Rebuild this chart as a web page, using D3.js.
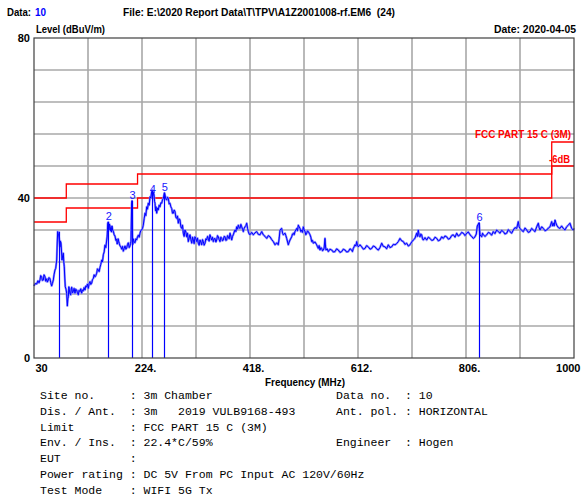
<!DOCTYPE html>
<html><head><meta charset="utf-8">
<script src="https://cdn.jsdelivr.net/npm/d3@7"></script>
<style>html,body{margin:0;padding:0;background:#fff;}svg{display:block;}</style>
</head><body>
<script>
// ---- data ----
const xTicks = [30, 224, 418, 612, 806, 1000];
const yTicks = [0, 40, 80];
const limitFreq = [30, 88, 88, 216, 216, 960, 960, 1000];
const limitQP = [40, 40, 43.5, 43.5, 46, 46, 54, 54];
const limitMargin = [34, 34, 37.5, 37.5, 40, 40, 48, 48];
const markerFreq = [74.4, 163.5, 206.0, 242.7, 264.3, 829.3];
const markerLevel = [31.6, 34.0, 39.3, 42.0, 41.3, 33.8];
const markerLabel = ["", "2", "3", "4", "5", "6"];
const traceMHz = [30,32,34.8,37,39,40.8,42,43.8,45,46.7,48,49.8,51,52.8,54,55.7,57,58.7,60,61.7,63,64.7,66,67.7,69,70.8,71.8,72.5,73.5,74.3,75.5,76.7,77.5,78.5,79.5,80.3,81.5,82.7,83.5,84.4,85.3,86.2,87.5,88.7,89.9,90.8,91.7,92.6,93.5,94.7,95.9,96.8,97.7,99.2,100.7,102,103.6,105,106.6,108,109.6,111,112.6,114,115.6,117,118.6,120,121.6,123,124.6,126,127.6,129,130.6,132,133.6,135,136.6,138,139.6,141,142.6,144,145.6,147,148.6,150,151.6,153,154.5,156,157.5,159,160.6,161.5,162.4,163.5,164.7,165.5,166.5,167.5,168.3,169.2,170.1,171.3,172.5,174,175.5,177,178.5,179.4,180.3,181.2,182.1,183.3,184.5,186,187.5,189,190.5,192,193.5,195,196.5,198,199.4,201,202.4,203.3,204.2,205.4,206.0,206.6,207.4,208.4,209.9,211.4,213,214.4,215.9,217.4,219,220.4,221.9,223.4,224.9,226.3,227.9,229.4,230.9,232.4,233.9,235.3,236.9,238.4,239.9,241.4,242.7,243.6,244.6,245.6,246.5,247.4,248.3,249.2,250.4,251.8,253.3,254.8,256.3,257.9,259.4,260.9,262.3,264.3,265.3,266.8,268.4,269.8,271.3,272.8,274.3,275.8,277.3,278.8,280.2,281.8,283.3,284.8,286.3,287.8,289.2,290.8,292.3,293.8,295.3,296.8,298.2,299.7,301.2,302.8,304.3,305.8,307.2,308.7,310.2,311.8,313.3,314.8,316.2,317.7,319.2,320.8,322.3,323.7,325.1,326.7,328.2,329.7,331.2,332.7,334.1,335.7,337.2,338.7,340.2,341.7,343.1,344.6,346.1,347.6,349.2,350.6,352.1,353.6,355.1,356.7,358.2,359.6,361.1,362.6,364.1,365.7,367.2,368.6,370,371.6,373.1,374.6,376.1,377.6,379,380.6,382.1,383.6,385.1,386.6,388,389.6,391.1,392.6,394.1,395.6,397,398.5,400,401.6,403.1,404.6,406,407.5,409,410.6,412.1,413.6,415,416.5,418,421,424,427,430,433,436,439,441.9,445,448,451,453.9,457,459.9,462.9,466,468.8,470.5,471.9,474.9,476.5,477.8,480.9,482.4,483.9,486.8,488.4,489.9,492.9,494.3,495.8,497.3,498.8,501.9,503.3,504.8,506.3,507.8,509.3,510.9,512.3,513.8,515.3,516.8,518.3,519.9,521.3,522.7,524.3,525.8,527.3,528.8,530.3,531.7,534.8,537.8,539.3,540.7,542.2,543.7,545.3,546.8,548.3,549.7,551.2,552.7,553.6,554.5,556.6,558.7,561.7,564.8,567.7,570.7,573.6,576.6,579.6,582.7,585.6,588.6,591.6,594.6,597.6,600.7,602,603.6,605,606.6,608.2,609.7,611,612.5,615.5,618.6,621.6,624.6,627.5,630.5,633.6,636.6,639.5,642.5,645.5,648.5,651.5,654.6,657.5,660.5,663.4,666.4,669.5,672.5,675.5,678.5,681.4,684.4,687.4,690.4,693.4,696.4,699.4,702.4,705.4,708.4,711.3,714.3,717.4,718.8,720.3,721.8,723.4,724.9,726.4,727.9,729.3,732.4,735.4,738.3,741.3,744.3,747.3,750.3,753.4,756.3,759.3,762.3,765.2,768.3,771.3,774.3,777.3,780.2,783.2,786.3,789.3,792.2,795.2,798.2,801.2,804.3,807.3,810.2,813.2,816.1,819.1,822.2,824.5,826.3,829.3,831.1,834.2,835.7,837.1,840.2,843.2,846.2,849.1,852,855,858,861.1,864.1,867.1,870,873,876,879.1,882,885,888,891,894,897.1,899.9,901.5,903,906,909,912,915,918,920.9,923.9,926.9,930,933,935.9,937.4,938.9,941.9,944.9,948,951,954,956.9,959.9,961.4,962.8,964.4,965.9,967.4,968.9,971.9,974.8,977.8,980.7,983.8,986.8,989.7,992.7,995.8,998.6,1000];
const traceDb = [18.0,18.6,18.5,19.3,18.8,19.5,20.6,20.2,19.4,19.5,20.8,20.3,19.2,19.8,19.0,19.5,20.1,19.8,18.9,18.0,18.6,19.5,20.8,22.0,22.4,24.5,29.0,31.6,31.0,30.8,29.5,27.8,29.2,28.7,26.5,24.5,25.5,26.2,24.0,22.8,20.0,17.8,17.2,16.2,13.0,14.8,15.3,17.8,17.0,16.0,15.8,17.2,17.7,16.3,16.6,17.4,16.2,17.2,17.0,16.3,15.8,16.9,16.6,17.3,16.2,17.0,16.8,17.6,17.0,18.0,17.8,18.5,17.4,18.6,19.1,18.4,18.7,19.6,19.9,20.8,20.3,20.6,21.2,22.3,22.0,21.6,22.7,23.4,24.5,24.0,25.8,26.5,28.2,27.6,29.5,30.5,33.7,34.0,32.0,33.5,33.0,31.8,32.6,31.5,33.0,32.0,31.7,30.8,30.5,29.4,29.7,28.5,28.8,29.8,29.2,28.6,28.0,27.8,27.2,27.9,26.7,27.4,28.0,27.2,27.5,28.4,28.8,27.6,28.0,28.6,29.2,38.5,39.3,31.0,28.4,29.8,29.0,28.8,29.8,29.5,30.3,30.7,30.2,31.2,31.9,32.0,32.4,33.2,34.8,36.2,35.6,37.8,37.2,38.7,38.2,40.3,40.0,41.6,42.0,40.6,41.4,40.8,39.2,38.7,36.8,37.8,36.2,37.5,37.0,38.2,37.8,38.8,38.7,39.6,39.9,41.3,40.8,39.8,39.5,40.2,39.9,38.5,38.7,37.8,37.4,36.2,36.2,37.0,36.6,35.2,34.9,35.5,33.7,34.8,34.5,32.8,32.4,33.2,31.2,30.4,32.0,31.5,30.3,31.2,29.1,30.0,30.8,29.6,28.7,30.2,29.5,28.6,30.3,29.8,29.1,30.0,28.7,28.2,29.5,29.0,28.3,29.6,29.1,28.2,28.7,29.8,29.5,30.4,29.9,29.2,30.8,30.1,29.5,30.2,29.1,29.8,29.9,29.0,29.5,30.6,30.3,29.6,29.1,30.2,29.9,29.3,29.5,30.4,30.3,29.4,29.5,30.6,30.3,29.8,31.2,30.5,29.5,30.4,30.8,31.5,32.0,31.6,32.8,32.2,33.2,32.6,32.4,33.4,32.8,32.2,31.6,32.4,32.8,33.1,33.7,32.4,31.6,31.0,30.8,31.4,30.8,31.3,31.6,30.9,30.8,31.6,30.8,30.4,29.9,30.6,30.3,29.6,29.1,28.3,28.8,28.3,30.0,32.0,32.4,31.2,30.8,31.2,30.6,29.9,28.3,29.0,29.5,30.3,31.0,31.2,30.8,31.6,32.4,31.8,33.2,32.8,32.4,31.6,32.0,31.4,32.8,32.0,31.6,30.8,31.2,31.8,31.6,31.2,30.8,30.2,29.1,29.4,28.7,29.0,28.3,27.8,27.4,28.1,27.0,27.6,27.4,26.8,27.0,27.5,29.9,28.0,27.0,27.3,26.6,27.2,27.0,26.5,26.6,27.3,27.0,26.4,26.6,27.2,27.0,26.5,26.6,27.3,27.0,26.6,27.4,27.8,28.3,28.0,29.1,28.2,27.8,28.3,27.8,27.2,27.4,28.1,27.8,27.2,27.4,28.0,27.8,27.3,27.0,27.6,28.7,27.9,27.8,27.3,28.3,27.6,27.8,28.4,28.3,28.6,29.1,29.9,29.3,29.1,28.4,28.7,28.0,28.3,29.0,29.5,29.9,31.2,30.4,32.0,30.6,30.3,31.0,30.8,29.8,29.5,30.1,29.5,30.2,29.9,29.4,29.5,30.2,29.9,29.3,29.5,30.3,29.9,30.5,30.3,29.7,29.9,30.6,30.8,30.2,31.2,30.5,30.8,31.4,31.2,30.6,31.2,31.5,30.8,30.4,29.9,30.3,31.0,33.0,33.8,30.8,30.3,31.2,30.8,30.4,30.8,31.4,31.2,30.7,31.6,31.1,32.0,31.6,31.2,31.9,31.6,31.0,31.2,32.1,31.6,31.2,32.0,32.6,32.4,34.1,32.8,32.4,31.9,31.6,32.5,32.0,31.4,31.6,32.4,32.0,31.6,32.8,33.7,32.6,32.0,32.8,32.4,31.8,32.0,32.5,32.8,34.1,33.0,33.7,33.0,34.5,33.8,33.2,32.6,32.4,33.0,32.4,32.0,32.8,33.2,33.7,32.4,32.0,32.4];
const infoLeft = ["Site no.     : 3m Chamber","Dis. / Ant.  : 3m   2019 VULB9168-493","Limit        : FCC PART 15 C (3M)","Env. / Ins.  : 22.4*C/59%","EUT          :","Power rating : DC 5V From PC Input AC 120V/60Hz","Test Mode    : WIFI 5G Tx"];
const infoRight = ["Data no.  : 10","Ant. pol. : HORIZONTAL","","Engineer  : Hogen","","",""];

// ---- chart ----
const W = 582, H = 498;
const svg = d3.select("body").append("svg").attr("width", W).attr("height", H);
svg.append("rect").attr("width", W).attr("height", H).attr("fill", "#fff");
const x = d3.scaleLinear().domain([30, 1000]).range([34, 574]);
const y = d3.scaleLinear().domain([0, 80]).range([358, 38]);
const boldFont = "'Liberation Sans', Arial, sans-serif";

// grid
const g = svg.append("g");
const vGrid = d3.range(1, 10).map(k => 30 + k * 97);
const hGrid = d3.range(1, 10).map(k => k * 8);
g.selectAll(".vg").data(vGrid).join("line").attr("x1", d => x(d)).attr("x2", d => x(d)).attr("y1", y(0)).attr("y2", y(80)).attr("stroke", "#a8a8a8").attr("stroke-width", 1.6);
g.selectAll(".hg").data(hGrid).join("line").attr("x1", x(30)).attr("x2", x(1000)).attr("y1", d => y(d)).attr("y2", d => y(d)).attr("stroke", "#a8a8a8").attr("stroke-width", 1.6);

// limit lines
const lineGen = d3.line().x(d => x(d[0])).y(d => y(d[1]));
[limitQP, limitMargin].forEach(arr => {
  svg.append("path").datum(limitFreq.map((f, i) => [f, arr[i]])).attr("d", lineGen).attr("fill", "none").attr("stroke", "#ff0000").attr("stroke-width", 1.3);
});

// trace
const traceData = traceMHz.map((f, i) => [f, traceDb[i]]);
svg.append("path").datum(traceData).attr("d", lineGen).attr("fill", "none").attr("stroke", "#8c8cff").attr("stroke-width", 2.2).attr("stroke-linejoin", "round");
svg.append("path").datum(traceData).attr("d", lineGen).attr("fill", "none").attr("stroke", "#0000ff").attr("stroke-width", 1);

// markers
svg.selectAll(".mk").data(markerFreq).join("line").attr("x1", d => Math.round(x(d)) + 0.5).attr("x2", d => Math.round(x(d)) + 0.5)
  .attr("y1", (d, i) => y(markerLevel[i])).attr("y2", y(0)).attr("stroke", "#0000ff").attr("stroke-width", 1.2);
svg.selectAll(".ml").data(markerFreq).join("text").attr("x", d => x(d) + 0.5).attr("y", (d, i) => y(markerLevel[i]) - (i === 3 ? -3 : 2))
  .attr("text-anchor", "middle").attr("font-family", boldFont).attr("font-size", 11).attr("fill", "#2020ff").text((d, i) => markerLabel[i]);

// frame
svg.append("rect").attr("x", 34).attr("y", 38).attr("width", 540).attr("height", 320).attr("fill", "none").attr("stroke", "#404040").attr("stroke-width", 1.2);

// axes
const xAxis = d3.axisBottom(x).tickValues(xTicks).tickSize(0).tickPadding(0)
  .tickFormat(d => (d === 30 || d === 1000) ? String(d) : d + ".");
const xa = svg.append("g").attr("transform", "translate(0,358)").call(xAxis);
xa.select(".domain").remove();
xa.selectAll("text").attr("font-family", boldFont).attr("font-weight", "bold").attr("font-size", 11).attr("fill", "#000").attr("y", 14).attr("dy", 0)
  .attr("text-anchor", d => d === 30 ? "start" : d === 1000 ? "end" : "middle")
  .attr("dx", d => d === 30 ? 1 : d === 1000 ? 6 : 3);
const yAxis = d3.axisLeft(y).tickValues(yTicks).tickSize(0).tickPadding(4);
const ya = svg.append("g").attr("transform", "translate(34,0)").call(yAxis);
ya.select(".domain").remove();
ya.selectAll("text").attr("font-family", boldFont).attr("font-weight", "bold").attr("font-size", 11).attr("fill", "#000").attr("dy", "0.35em");

function txt(t, xx, yy, opts = {}) {
  const e = svg.append("text").attr("x", xx).attr("y", yy).attr("font-family", opts.family || boldFont)
    .attr("font-weight", opts.weight || "bold").attr("font-size", opts.size || 11).attr("fill", opts.fill || "#000")
    .attr("text-anchor", opts.anchor || "start").style("white-space", "pre").text(t);
  if (opts.len) e.attr("textLength", opts.len).attr("lengthAdjust", "spacingAndGlyphs");
  return e;
}
txt("Data:", 7, 16, {len: 24});
txt("10", 35, 16, {len: 11, fill: "#0000ff"});
txt("File: E:\\2020 Report Data\\T\\TPV\\A1Z2001008-rf.EM6  (24)", 123, 16, {len: 272});
txt("Level (dBuV/m)", 36, 33, {len: 69});
txt("Date: 2020-04-05", 494, 33, {len: 82});
txt("Frequency (MHz)", 265, 386, {len: 80});
txt("FCC PART 15 C (3M)", 475, 138, {len: 96, fill: "#ff0000"});
txt("-6dB", 549, 163, {len: 21, fill: "#ff0000"});

// info table
const mono = "'Liberation Mono', 'Courier New', monospace";
infoLeft.forEach((t, i) => txt(t, 40, 399 + i * 15.8, {family: mono, weight: "normal", size: 11.5}));
infoRight.forEach((t, i) => { if (t) txt(t, 336, 399 + i * 15.8, {family: mono, weight: "normal", size: 11.5}); });
</script>
</body></html>
